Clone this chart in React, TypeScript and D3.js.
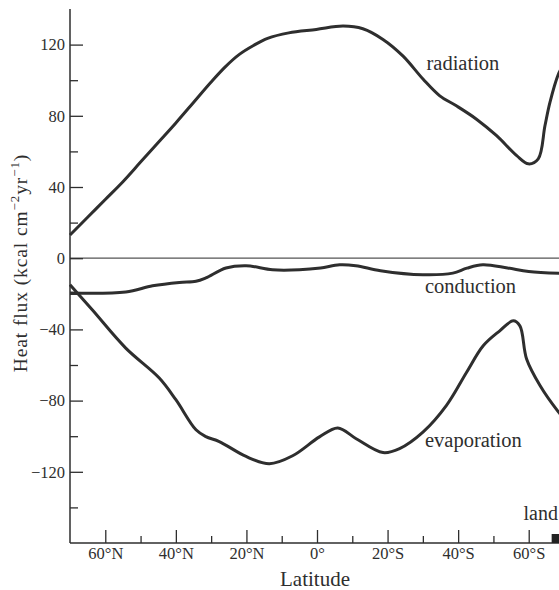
import * as d3 from "d3";
import { useEffect, useRef } from "react";

// latitude: negative = north, positive = south
const radiationLat = [-70, -65, -60, -55, -50, -45, -40, -35, -30, -26, -22, -18, -14, -8, -0.2, 7.4, 13, 18.7, 24.4, 30.1, 34.8, 39.5, 45.2, 50.9, 56.6, 59.9, 62.7, 64.6, 66, 68.4, 70];
const radiationVal = [13, 23, 33, 43, 54, 65, 76, 87.5, 99, 107.5, 114.5, 119.5, 123.5, 126.6, 128.5, 130.4, 128.9, 122.9, 113.5, 100.5, 91.2, 85.6, 78.1, 68.8, 57.6, 53, 55.8, 74.4, 87.4, 103.3, 109];

const conductionLat = [-70, -54.2, -46.6, -39, -34.3, -31.5, -25.8, -20.1, -12.6, -5, 1, 6.4, 11, 18, 30, 38.5, 42.5, 47, 54, 60, 70];
const conductionVal = [-19.6, -19, -15.5, -13.6, -13, -11.1, -5.5, -4.2, -6.5, -6.5, -5.5, -3.7, -4.2, -7, -9.3, -8.4, -5.6, -3.7, -5.5, -7.5, -8.6];

const evaporationLat = [-70, -63.7, -54.2, -44.7, -40, -34.3, -31.5, -27.7, -20.1, -13.5, -6.9, 0.7, 5.9, 11.1, 18.7, 23.4, 30.1, 36.7, 42.4, 47.1, 51.8, 55.6, 57.5, 59.4, 63.2, 68.4, 70];
const evaporationVal = [-14.9, -29, -50.5, -67.3, -79.5, -96.4, -100.2, -103, -111.4, -115.5, -111, -100.4, -95.4, -101.4, -109.2, -107, -97.6, -82.7, -64.1, -49.2, -40.8, -35.2, -38, -56.6, -71.5, -86.3, -90];

const xMajor = [-60, -40, -20, 0, 20, 40, 60];
const xMajorLabels = ["60°N", "40°N", "20°N", "0°", "20°S", "40°S", "60°S"];
const xMinor = [-50, -30, -10, 10, 30, 50];
const yMajor = [-120, -80, -40, 0, 40, 80, 120];
const yMinor = [-140, -100, -60, -20, 20, 60, 100];

const landStart = 66.5;

const W = 559;
const H = 590;
const ink = "#2e2e2e";
const font = "'Liberation Serif', 'Times New Roman', serif";

export default function App() {
  const ref = useRef<SVGSVGElement>(null);

  useEffect(() => {
    const svg = d3.select(ref.current);
    svg.selectAll("*").remove();

    const x = d3.scaleLinear().domain([-70, 70]).range([70, 564]);
    const y = d3.scaleLinear().domain([-160, 140]).range([543, 9]);

    // zero line
    svg.append("line")
      .attr("x1", x(-70)).attr("x2", W)
      .attr("y1", y(0)).attr("y2", y(0))
      .attr("stroke", "#555").attr("stroke-width", 1.2);

    // y axis: minor ticks then major with labels
    const yMin = svg.append("g").attr("transform", `translate(${x(-70)},0)`)
      .call(d3.axisLeft(y).tickValues(yMinor).tickSize(-8).tickFormat(() => ""));
    const yMaj = svg.append("g").attr("transform", `translate(${x(-70)},0)`)
      .call(d3.axisLeft(y).tickValues(yMajor).tickSizeInner(-13).tickSizeOuter(0).tickPadding(5)
        .tickFormat((d) => (+d < 0 ? "\u2212" + Math.abs(+d) : String(d))));

    // x axis
    const xMin = svg.append("g").attr("transform", `translate(0,${y(-160)})`)
      .call(d3.axisBottom(x).tickValues(xMinor).tickSize(-7).tickFormat(() => ""));
    const xMaj = svg.append("g").attr("transform", `translate(0,${y(-160)})`)
      .call(d3.axisBottom(x).tickValues(xMajor).tickSizeInner(-13).tickSizeOuter(0)
        .tickFormat((d, i) => xMajorLabels[i]));

    [yMin, yMaj, xMin, xMaj].forEach((g) => {
      g.select(".domain").remove();
      g.selectAll("line").attr("stroke", ink).attr("stroke-width", 1.3);
      g.selectAll("text").attr("fill", ink).style("font-family", font).style("font-size", "16.5px");
    });
    xMaj.selectAll("text").attr("y", 15.5).attr("dy", 0);

    // axis lines
    svg.append("line")
      .attr("x1", x(-70)).attr("x2", x(-70))
      .attr("y1", y(140)).attr("y2", y(-160))
      .attr("stroke", ink).attr("stroke-width", 1.5);
    svg.append("line")
      .attr("x1", x(-70)).attr("x2", W)
      .attr("y1", y(-160)).attr("y2", y(-160))
      .attr("stroke", ink).attr("stroke-width", 1.5);

    // land bar
    svg.append("rect")
      .attr("x", x(landStart)).attr("y", y(-160) - 9)
      .attr("width", x(72) - x(landStart)).attr("height", 9)
      .attr("fill", "#222");

    const line = d3.line<[number, number]>()
      .x((d) => x(d[0]))
      .y((d) => y(d[1]))
      .curve(d3.curveCatmullRom.alpha(0.5));

    const series: [number[], number[]][] = [
      [radiationLat, radiationVal],
      [conductionLat, conductionVal],
      [evaporationLat, evaporationVal],
    ];
    series.forEach(([lat, val]) => {
      svg.append("path")
        .datum(lat.map((l, i) => [l, val[i]] as [number, number]))
        .attr("d", line)
        .attr("fill", "none")
        .attr("stroke", ink)
        .attr("stroke-width", 3)
        .attr("stroke-linejoin", "round");
    });

    const label = (t: string, lx: number, ly: number, size = 20.5, anchor = "start") =>
      svg.append("text")
        .attr("x", lx).attr("y", ly)
        .attr("text-anchor", anchor)
        .attr("fill", ink)
        .style("font-family", font)
        .style("font-size", `${size}px`)
        .text(t);

    label("radiation", 426.5, 70);
    label("conduction", 425, 293);
    label("evaporation", 425, 447);
    label("land", 523.5, 520, 20);
    label("Latitude", 315, 586, 21, "middle");

    // y axis title
    const yt = svg.append("text")
      .attr("transform", `translate(27,263) rotate(-90)`)
      .attr("text-anchor", "middle")
      .attr("fill", ink)
      .style("font-family", font)
      .style("font-size", "19.5px")
      .style("letter-spacing", "0.9px");
    yt.append("tspan").text("Heat flux (kcal cm");
    yt.append("tspan").attr("dy", -8).style("font-size", "13px").text("\u22122");
    yt.append("tspan").attr("dy", 8).text("yr");
    yt.append("tspan").attr("dy", -8).style("font-size", "13px").text("\u22121");
    yt.append("tspan").attr("dy", 8).text(")");
  }, []);

  return (
    <div style={{ position: "absolute", left: 0, top: 0, width: W, height: H, overflow: "hidden", background: "#fff" }}>
      <svg ref={ref} width={W} height={H} style={{ display: "block" }} />
    </div>
  );
}
